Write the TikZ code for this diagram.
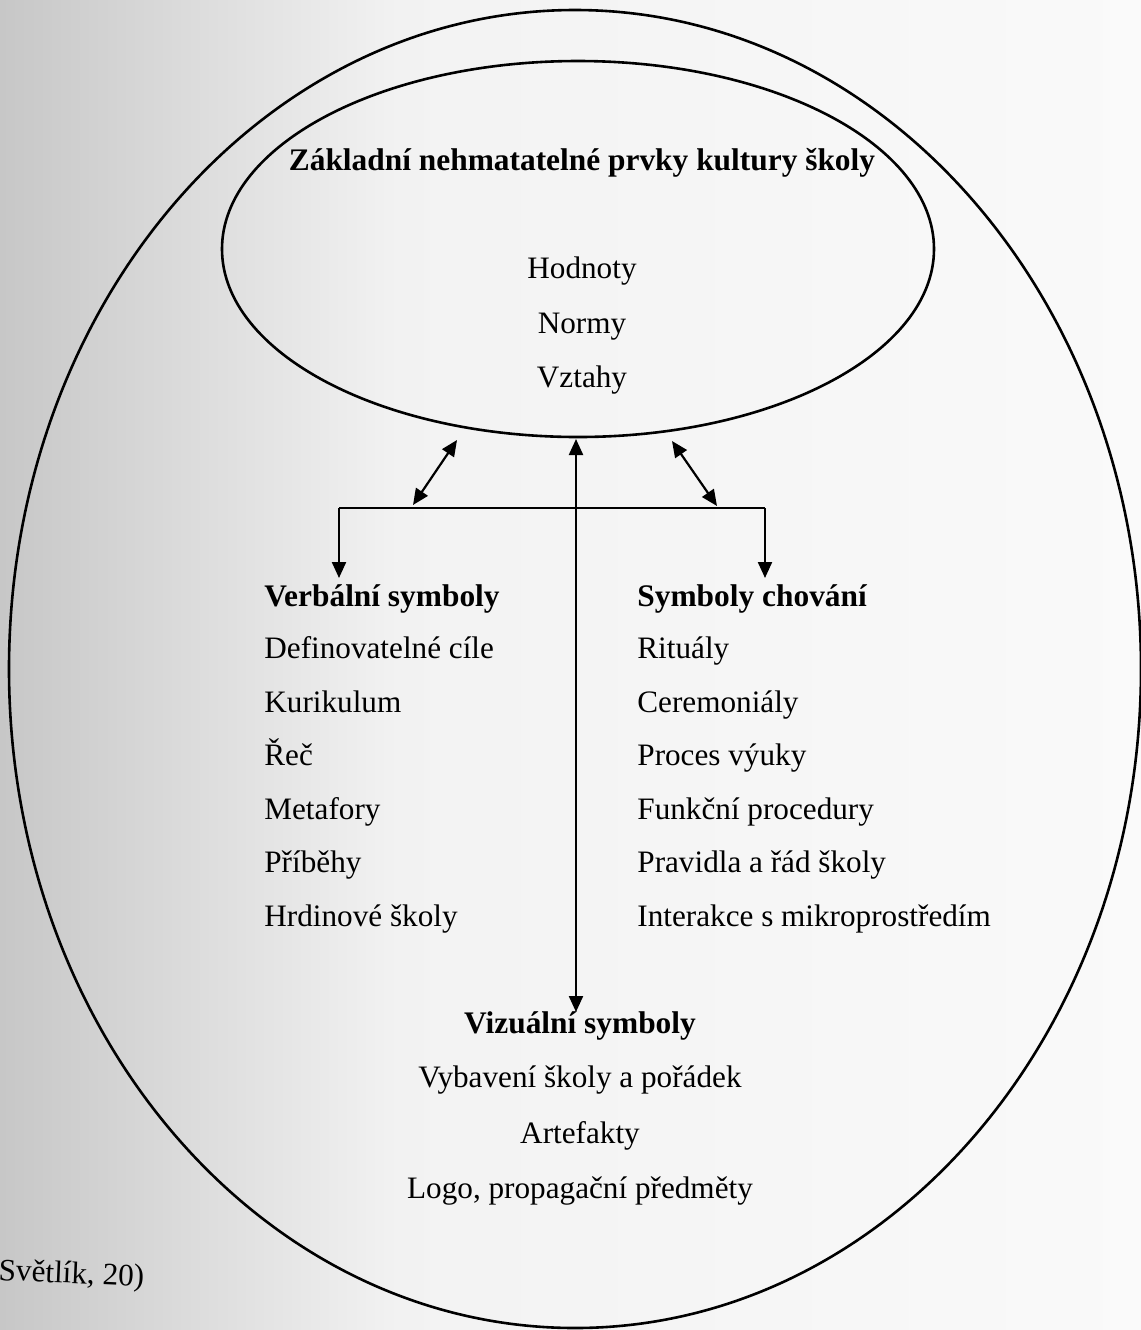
\documentclass[tikz,border=0pt]{standalone}
\usepackage{fontspec}
\setmainfont{Liberation Serif}
\usetikzlibrary{shapes.geometric,arrows.meta}
\begin{document}
\begin{tikzpicture}[x=0.5pt,y=-0.5pt,
  txt/.style={inner sep=0pt,font=\fontsize{15.6}{18}\selectfont},
  hd/.style={txt,font=\fontsize{15.7}{18}\selectfont\bfseries},
  tip/.style={},
  conn/.style={line width=1.1pt,-{Triangle[length=8pt,width=7pt]}},
  dconn/.style={line width=1.1pt,{Triangle[length=8pt,width=7pt]}-{Triangle[length=8pt,width=7pt]}},
  plain/.style={line width=1.1pt},
  oval/.style={draw,ellipse,line width=1.3pt,inner sep=0pt}]
\useasboundingbox (0,0) rectangle (1141,1330);
\shade[left color=black!22,right color=black!5] (0,0) rectangle (400,1330);
\shade[left color=black!5,right color=black!2] (399,0) rectangle (1141,1330);
% ellipses
\node[oval,minimum width=566pt,minimum height=659pt] (outer) at (575,669) {};
\node[oval,minimum width=356pt,minimum height=188pt] (inner) at (578,249) {};
% inner texts
\node[hd,anchor=base] (title) at (582,170) {Základní nehmatatelné prvky kultury školy};
\node[txt,anchor=base] (hod) at (582,278) {Hodnoty};
\node[txt,anchor=base] (nor) at (582,333) {Normy};
\node[txt,anchor=base] (vzt) at (582,387) {Vztahy};
% left column
\node[hd,anchor=base west] (verb) at (264,606) {Verbální symboly};
\node[txt,anchor=base west] (l1) at (264,658) {Definovatelné cíle};
\node[txt,anchor=base west] (l2) at (264,712) {Kurikulum};
\node[txt,anchor=base west] (l3) at (264,765) {Řeč};
\node[txt,anchor=base west] (l4) at (264,819) {Metafory};
\node[txt,anchor=base west] (l5) at (264,872) {Příběhy};
\node[txt,anchor=base west] (l6) at (264,926) {Hrdinové školy};
% right column
\node[hd,anchor=base west] (beh) at (637,606) {Symboly chování};
\node[txt,anchor=base west] (r1) at (637,658) {Rituály};
\node[txt,anchor=base west] (r2) at (637,712) {Ceremoniály};
\node[txt,anchor=base west] (r3) at (637,765) {Proces výuky};
\node[txt,anchor=base west] (r4) at (637,819) {Funkční procedury};
\node[txt,anchor=base west] (r5) at (637,872) {Pravidla a řád školy};
\node[txt,anchor=base west] (r6) at (637,926) {Interakce s mikroprostředím};
% bottom
\node[hd,anchor=base] (viz) at (580,1033) {Vizuální symboly};
\node[txt,anchor=base] (b1) at (580,1087) {Vybavení školy a pořádek};
\node[txt,anchor=base] (b2) at (580,1143) {Artefakty};
\node[txt,anchor=base] (b3) at (580,1198) {Logo, propagační předměty};
\node[txt,anchor=base west,rotate=-2.5] (src) at (-2,1280) {Světlík, 20)};
% connector points
\coordinate (hl) at (339,508);
\coordinate (hr) at (765,508);
\coordinate (vl) at (339,578);
\coordinate (vr) at (765,578);
\coordinate (vtop) at (576,439);
\coordinate (vbot) at (576,1012);
\coordinate (dla) at (413,505);
\coordinate (dlb) at (457,440);
\coordinate (dra) at (717,506);
\coordinate (drb) at (672,441);
% connectors
\draw[plain] (hl) -- (hr);
\draw[conn] (hl) -- (vl);
\draw[conn] (hr) -- (vr);
\draw[dconn] (vbot) -- (vtop);
\draw[dconn] (dla) -- (dlb);
\draw[dconn] (dra) -- (drb);
\end{tikzpicture}
\end{document}
